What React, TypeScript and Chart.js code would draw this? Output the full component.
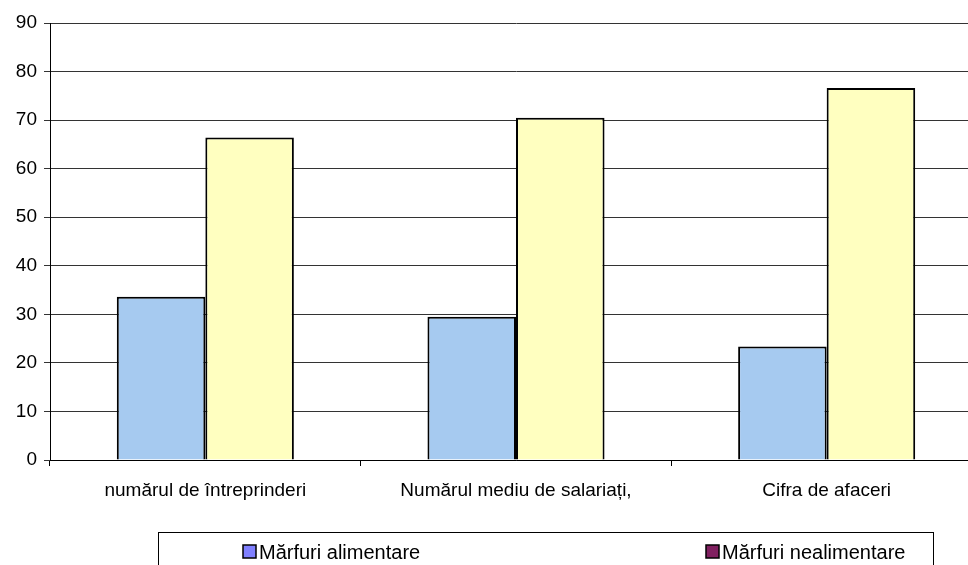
import React, { useEffect, useRef } from "react";
import { Chart, registerables } from "chart.js";

Chart.register(...registerables);

const categories = ["numărul de întreprinderi", "Numărul mediu de salariați,", "Cifra de afaceri"];
const seriesNames = ["Mărfuri alimentare", "Mărfuri nealimentare"];
const alimentare = [33.6, 29.5, 23.4];
const nealimentare = [66.4, 70.5, 76.6];
const barColors = ["#A6CAF0", "#FFFFC0"];
const legendColors = ["#8080FF", "#802060"];
const yMin = 0;
const yMax = 90;
const yStep = 10;

const FONT = "'Liberation Sans', Arial, sans-serif";

const legendPlugin = {
  id: "boxLegend",
  afterDraw(chart: any) {
    const ctx = chart.ctx;
    ctx.save();
    ctx.strokeStyle = "#000";
    ctx.lineWidth = 1;
    ctx.strokeRect(158.5, 532.5, 775, 60);
    const items = [
      { sx: 243, tx: 259 },
      { sx: 706, tx: 722 },
    ];
    ctx.font = `20px ${FONT}`;
    ctx.textBaseline = "alphabetic";
    ctx.textAlign = "left";
    chart.data.datasets.forEach((ds: any, i: number) => {
      const it = items[i];
      ctx.fillStyle = legendColors[i];
      ctx.fillRect(it.sx, 545, 13, 13);
      ctx.strokeStyle = "#000";
      ctx.lineWidth = 1.5;
      ctx.strokeRect(it.sx, 545, 13, 13);
      ctx.fillStyle = "#000";
      ctx.fillText(ds.label, it.tx, 559);
    });
    ctx.restore();
  },
};

export default function App() {
  const ref = useRef<HTMLCanvasElement | null>(null);
  useEffect(() => {
    if (!ref.current) return;
    const chart = new Chart(ref.current, {
      type: "bar",
      data: {
        labels: categories,
        datasets: [
          {
            label: seriesNames[0],
            data: alimentare,
            backgroundColor: barColors[0],
            borderColor: "#000",
            borderWidth: 2,
            categoryPercentage: 0.57,
            barPercentage: 1,
          },
          {
            label: seriesNames[1],
            data: nealimentare,
            backgroundColor: barColors[1],
            borderColor: "#000",
            borderWidth: 2,
            categoryPercentage: 0.57,
            barPercentage: 1,
          },
        ],
      },
      options: {
        responsive: false,
        animation: false,
        devicePixelRatio: 1,
        layout: { padding: { top: 23, right: 2, left: 0, bottom: 0 } },
        plugins: { legend: { display: false }, tooltip: { enabled: false } },
        scales: {
          x: {
            afterFit: (s: any) => {
              s.height = 105;
            },
            grid: { offset: true, drawOnChartArea: false, tickLength: 6, color: "#000", lineWidth: 1 },
            border: { display: true, color: "#000", width: 1 },
            ticks: { color: "#000", font: { family: FONT, size: 19 }, padding: 13, maxRotation: 0 },
          },
          y: {
            min: yMin,
            max: yMax,
            afterFit: (s: any) => {
              s.width = 50;
            },
            ticks: { stepSize: yStep, color: "#000", font: { family: FONT, size: 19 }, padding: 7 },
            grid: { color: "#333", lineWidth: 1, tickLength: 6 },
            border: { display: true, color: "#000", width: 1 },
          },
        },
      },
      plugins: [legendPlugin],
    });
    return () => chart.destroy();
  }, []);
  return (
    <div style={{ position: "absolute", left: 0, top: 0, width: 968, height: 565, overflow: "hidden", background: "#fff" }}>
      <canvas ref={ref} width={984} height={565} style={{ display: "block" }} />
    </div>
  );
}
